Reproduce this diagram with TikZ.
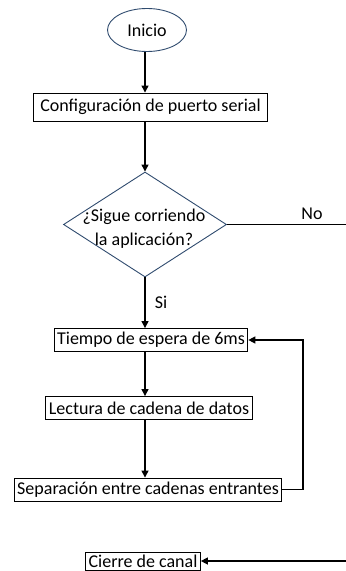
\documentclass[tikz,border=0pt]{standalone}
\usepackage{fontspec}
\setmainfont{Carlito}
\usepackage{xcolor}
\usetikzlibrary{arrows.meta,positioning,calc,shapes.geometric}
\definecolor{edge}{HTML}{2F4B6E}

\begin{document}
\begin{tikzpicture}[x=1bp, y=-1bp, >={Triangle[length=7bp,width=7bp]},
  font=\fontsize{18bp}{24bp}\selectfont,
  box/.style={draw, line width=0.9bp, inner xsep=3bp, inner ysep=0bp, minimum height=23bp},
  flow/.style={->, line width=1.3bp}]
\useasboundingbox (0,0) rectangle (345,571);
\node[ellipse, draw=edge, line width=0.9bp, minimum width=79bp, minimum height=43bp, inner sep=0pt] (inicio) at (147,30) {Inicio};
\node[box, inner xsep=7bp, minimum height=28bp] (cfg) at (150.5,107) {Configuración de puerto serial};
\node[diamond, draw=edge, line width=0.9bp, minimum width=163bp, minimum height=105bp, inner sep=0pt] (run) at (145,224.5) {};
\node[align=center, inner sep=0pt] (runtxt) at (144,229) {¿Sigue corriendo\\la aplicación?};
\node[box] (wait) at (151,340) {Tiempo de espera de 6ms};
\node[box] (read) at (149,408) {Lectura de cadena de datos};
\node[box] (split) at (148,489.5) {Separación entre cadenas entrantes};
\node[box, minimum height=18bp] (close) at (143,561) {Cierre de canal};
\coordinate (loop) at (303,0);
\coordinate (outer) at (352,0);
% main flow
\draw[flow] (inicio.south -| run.north) -- (run.north |- cfg.north);
\draw[flow] (run.north |- cfg.south) -- (run.north);
\draw[flow] (run.south) -- (run.south |- wait.north) node[pos=0.5, right=6bp] (si) {Si};
\draw[flow] (run.south |- wait.south) -- (run.south |- read.north);
\draw[flow] (run.south |- read.south) -- (run.south |- split.north);
% loop back
\draw[flow] (split.east) -- (split.east -| loop) -- (wait.east -| loop) -- (wait.east);
% exit
\draw[line width=1.3bp] (run.east) -- (run.east -| outer) node[pos=0.68, above=1bp] (no) {No};
\draw[flow] (run.east -| outer) -- (close.east -| outer) -- (close.east);
\end{tikzpicture}
\end{document}
